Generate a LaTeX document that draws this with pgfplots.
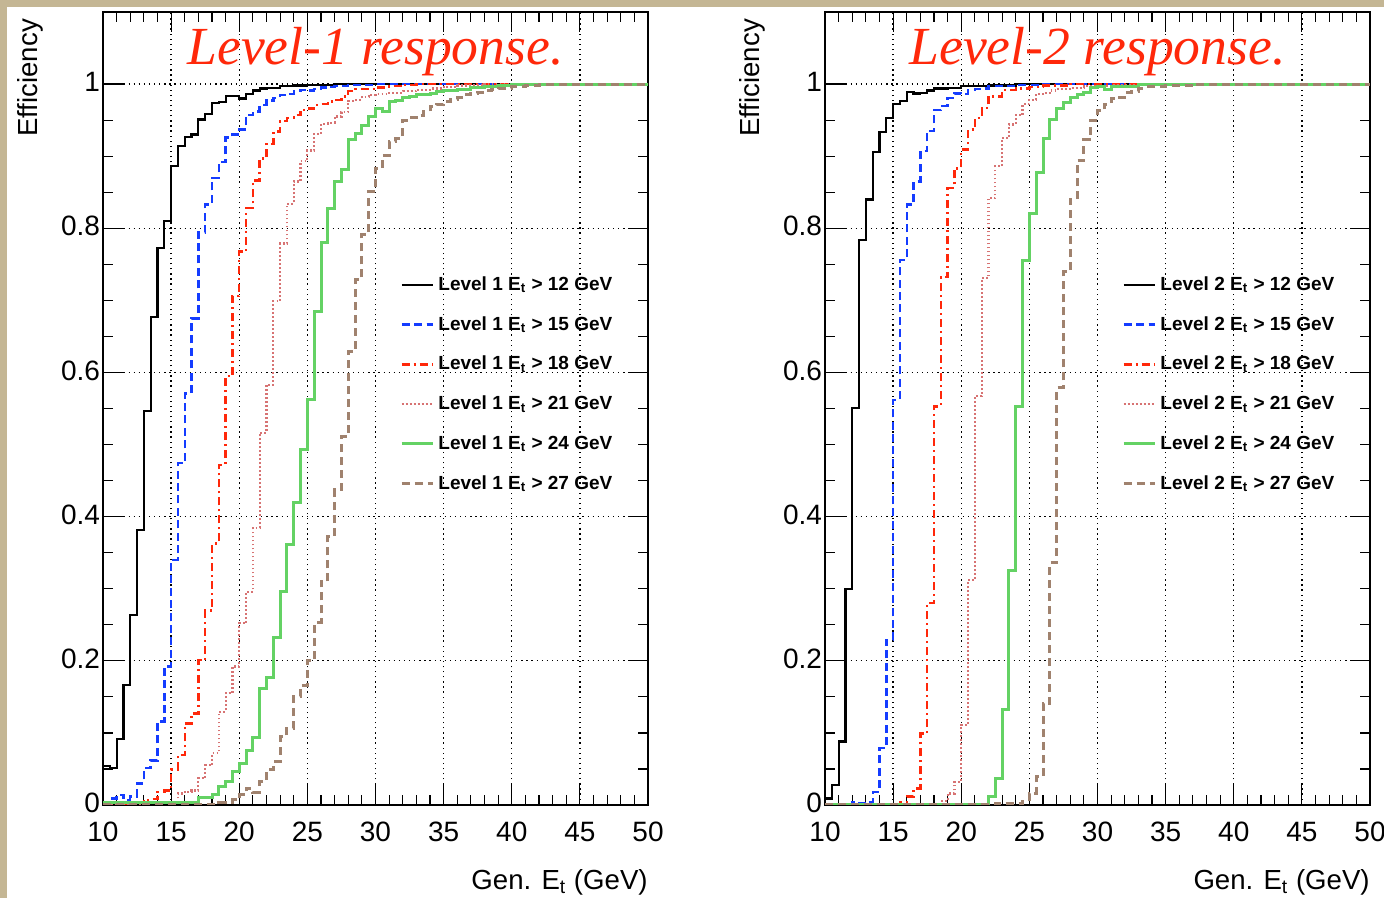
\documentclass[border=0pt]{standalone}
\usepackage{fontspec}
\setmainfont{Liberation Sans}
\newfontfamily\titlefont{Liberation Serif}
\usepackage{pgfplots}
\pgfplotsset{compat=1.18}

\definecolor{rootblue}{RGB}{20,60,255}
\definecolor{rootred}{RGB}{255,40,10}
\definecolor{rootpink}{RGB}{215,115,115}
\definecolor{rootgreen}{RGB}{100,210,100}
\definecolor{rootbrown}{RGB}{160,130,110}
\definecolor{paper}{RGB}{196,182,148}

\pgfplotsset{
  effplot/.style={
    scale only axis, width=272.5pt, height=396.5pt,
    xmin=10, xmax=50, ymin=0, ymax=1.1,
    xtick={10,15,20,25,30,35,40,45,50},
    ytick={0,0.2,0.4,0.6,0.8,1},
    minor x tick num=4, minor y tick num=3,
    tick align=inside, tick pos=both,
    major tick length=10pt, minor tick length=5pt,
    grid=major,
    major grid style={black, line width=0.65pt, dash pattern=on 0.65pt off 1.9pt},
    axis line style={line width=1pt},
    every tick/.style={black, line width=0.6pt},
    tick label style={font=\fontsize{14}{16}\selectfont},
    /pgf/number format/assume math mode=true,
    xticklabel style={yshift=-5pt},
    yticklabel style={xshift=2pt, yshift=1pt},
    legend style={draw=none, fill=none, at={(rel axis cs:0.545,0.672)},
      anchor=north west, font=\bfseries\fontsize{9.5}{10}\selectfont,
      row sep=7.5pt, inner sep=0pt},
    legend cell align=left,
    legend image code/.code={\draw[#1] (0pt,0pt) -- (13.5pt,0pt);
      \path (0pt,0pt) -- (15.5pt,0pt);},
    const plot,
  },
  l1/.style={black, line width=1.1pt},
  l2/.style={rootblue, line width=1.2pt, dash pattern=on 4pt off 2.2pt},
  l3/.style={rootred, line width=1.2pt, dash pattern=on 4pt off 2pt on 1pt off 2pt},
  l4/.style={rootpink, line width=1.1pt, dash pattern=on 0.9pt off 1.1pt},
  l5/.style={rootgreen, line width=1.5pt},
  l6/.style={rootbrown, line width=1.5pt, dash pattern=on 4pt off 2.5pt},
}

\begin{document}
\begin{tikzpicture}[x=1pt,y=1pt]
\useasboundingbox (0,0) rectangle (692,449);
\clip (0,0) rectangle (692,449);
\fill[paper] (0,0) rectangle (692,449);
\fill[white] (3.5,0) rectangle (692,445.5);

% ---------- Level 1 ----------
\begin{axis}[effplot, name=L, at={(51.5pt,46.5pt)}, anchor=south west]
\addplot[l1] coordinates {
 (10,0.054) (10.5,0.051) (11,0.091) (11.5,0.167) (12,0.264) (12.5,0.381)
 (13,0.547) (13.5,0.677) (14,0.773) (14.5,0.810) (15,0.886) (15.5,0.914)
 (16,0.927) (16.5,0.930) (17,0.951) (17.5,0.959) (18,0.974) (18.5,0.975)
 (19,0.983) (19.5,0.984) (20,0.980) (20.5,0.986) (21,0.991) (21.5,0.994)
 (22,0.995) (23,0.997) (24,0.998) (25,0.999) (27,1.0) (50,1.0)};
\addlegendentry{Level 1 E\textsubscript{t} > 12 GeV}
\addplot[l2] coordinates {
 (10,0.003) (10.5,0.009) (11,0.014) (11.5,0.007) (12,0.012) (12.5,0.030)
 (13,0.051) (13.5,0.062) (14,0.116) (14.5,0.192) (15,0.340) (15.5,0.474)
 (16,0.571) (16.5,0.675) (17,0.794) (17.5,0.833) (18,0.870) (18.5,0.892)
 (19,0.926) (19.5,0.930) (20,0.937) (20.5,0.957) (21,0.962) (21.5,0.971)
 (22,0.977) (22.5,0.981) (23,0.985) (23.5,0.986) (24,0.990) (24.5,0.992)
 (25,0.991) (25.5,0.993) (26,0.995) (26.5,0.996) (27,0.997) (28,0.999)
 (30,1.0) (50,1.0)};
\addlegendentry{Level 1 E\textsubscript{t} > 15 GeV}
\addplot[l3] coordinates {
 (10,0.002) (12,0.004) (13,0.007) (13.5,0.008) (14,0.018) (14.5,0.020)
 (15,0.049) (15.5,0.069) (16,0.113) (16.5,0.127) (17,0.201) (17.5,0.270)
 (18,0.363) (18.5,0.472) (19,0.595) (19.5,0.706) (20,0.768) (20.5,0.828)
 (21,0.866) (21.5,0.897) (22,0.917) (22.5,0.934) (23,0.949) (23.5,0.953)
 (24,0.957) (24.5,0.964) (25,0.966) (25.5,0.971) (26,0.972) (26.5,0.976)
 (27,0.978) (27.5,0.983) (28,0.990) (28.5,0.993) (30,0.995) (31,0.997)
 (32,0.999) (33,1.0) (50,1.0)};
\addlegendentry{Level 1 E\textsubscript{t} > 18 GeV}
\addplot[l4] coordinates {
 (10,0.002) (13,0.003) (15.5,0.016) (16,0.018) (16.5,0.020) (17,0.037)
 (17.5,0.055) (18,0.072) (18.5,0.129) (19,0.155) (19.5,0.192) (20,0.252)
 (20.5,0.296) (21,0.384) (21.5,0.516) (22,0.583) (22.5,0.699) (23,0.779)
 (23.5,0.834) (24,0.865) (24.5,0.893) (25,0.908) (25.5,0.931) (26,0.945)
 (26.5,0.946) (27,0.955) (27.5,0.961) (28,0.977) (28.5,0.978) (29,0.982)
 (29.5,0.985) (30,0.986) (31,0.988) (32,0.990) (33,0.992) (34,0.994)
 (35,0.996) (36,0.998) (38,1.0) (50,1.0)};
\addlegendentry{Level 1 E\textsubscript{t} > 21 GeV}
\addplot[l5] coordinates {
 (10,0.003) (17,0.011) (18,0.015) (18.5,0.025) (19,0.032) (19.5,0.047)
 (20,0.058) (20.5,0.076) (21,0.093) (21.5,0.161) (22,0.177) (22.5,0.233)
 (23,0.296) (23.5,0.362) (24,0.420) (24.5,0.493) (25,0.562) (25.5,0.685)
 (26,0.780) (26.5,0.827) (27,0.865) (27.5,0.881) (28,0.923) (28.5,0.932)
 (29,0.942) (29.5,0.955) (30,0.966) (30.5,0.962) (31,0.976) (31.5,0.977)
 (32,0.981) (32.5,0.983) (33,0.985) (33.5,0.986) (34,0.987) (34.5,0.990)
 (35,0.991) (36,0.993) (37,0.995) (38,0.997) (39,0.998) (40,0.999)
 (42,1.0) (50,1.0)};
\addlegendentry{Level 1 E\textsubscript{t} > 24 GeV}
\addplot[l6] coordinates {
 (10,0.001) (18.5,0.003) (19,0.004) (19.5,0.007) (20,0.014) (20.5,0.023)
 (21,0.018) (21.5,0.032) (22,0.049) (22.5,0.060) (23,0.095) (23.5,0.106)
 (24,0.150) (24.5,0.166) (25,0.201) (25.5,0.253) (26,0.310) (26.5,0.372)
 (27,0.438) (27.5,0.511) (28,0.629) (28.5,0.729) (29,0.791) (29.5,0.851)
 (30,0.883) (30.5,0.901) (31,0.920) (31.5,0.925) (32,0.949) (32.5,0.953)
 (33,0.957) (33.5,0.962) (34,0.969) (34.5,0.972) (35,0.976) (35.5,0.979)
 (36,0.982) (36.5,0.985) (37,0.987) (37.5,0.989) (38,0.991) (38.5,0.992)
 (39,0.994) (40,0.996) (41,0.998) (42,0.999) (43,1.0) (50,1.0)};
\addlegendentry{Level 1 E\textsubscript{t} > 27 GeV}
\end{axis}

% ---------- Level 2 ----------
\begin{axis}[effplot, name=R, at={(412.5pt,46.5pt)}, anchor=south west]
\addplot[l1] coordinates {
 (10,0.009) (10.5,0.028) (11,0.088) (11.5,0.300) (12,0.551) (12.5,0.784)
 (13,0.840) (13.5,0.906) (14,0.934) (14.5,0.953) (15,0.972) (15.5,0.976)
 (16,0.989) (16.5,0.987) (17,0.988) (17.5,0.991) (18,0.994) (19,0.995)
 (20,0.997) (22,0.998) (24,1.0) (50,1.0)};
\addlegendentry{Level 2 E\textsubscript{t} > 12 GeV}
\addplot[l2] coordinates {
 (10,0.0) (12,0.004) (12.5,0.002) (13,0.004) (13.5,0.018) (14,0.079)
 (14.5,0.229) (15,0.562) (15.5,0.756) (16,0.833) (16.5,0.865) (17,0.907)
 (17.5,0.935) (18,0.964) (18.5,0.970) (19,0.981) (19.5,0.987) (20,0.986)
 (20.5,0.992) (21,0.993) (21.5,0.994) (22,0.997) (24,0.999) (26,1.0) (50,1.0)};
\addlegendentry{Level 2 E\textsubscript{t} > 15 GeV}
\addplot[l3] coordinates {
 (10,0.0) (15.5,0.004) (16,0.012) (16.5,0.023) (17,0.099) (17.5,0.280)
 (18,0.553) (18.5,0.732) (19,0.856) (19.5,0.883) (20,0.909) (20.5,0.937)
 (21,0.953) (21.5,0.967) (22,0.983) (23,0.992) (24,0.994) (25,0.996)
 (26,0.998) (28,1.0) (50,1.0)};
\addlegendentry{Level 2 E\textsubscript{t} > 18 GeV}
\addplot[l4] coordinates {
 (10,0.0) (18.5,0.005) (19,0.016) (19.5,0.032) (20,0.111) (20.5,0.312)
 (21,0.567) (21.5,0.731) (22,0.842) (22.5,0.886) (23,0.925) (23.5,0.944)
 (24,0.957) (24.5,0.972) (25,0.978) (25.5,0.986) (26,0.988) (26.5,0.991)
 (27,0.993) (28,0.995) (29,0.997) (31,0.999) (33,1.0) (50,1.0)};
\addlegendentry{Level 2 E\textsubscript{t} > 21 GeV}
\addplot[l5] coordinates {
 (10,0.0) (20,0.001) (22,0.012) (22.5,0.037) (23,0.132) (23.5,0.325)
 (24,0.553) (24.5,0.755) (25,0.821) (25.5,0.877) (26,0.924) (26.5,0.951)
 (27,0.966) (27.5,0.974) (28,0.981) (28.5,0.985) (29,0.989) (29.5,0.995)
 (30,0.996) (30.5,0.992) (31,0.996) (31.5,0.997) (33,0.999) (35,1.0) (50,1.0)};
\addlegendentry{Level 2 E\textsubscript{t} > 24 GeV}
\addplot[l6] coordinates {
 (10,0.0) (22.5,0.002) (24.5,0.005) (25,0.016) (25.5,0.039) (26,0.141)
 (26.5,0.336) (27,0.579) (27.5,0.740) (28,0.840) (28.5,0.894) (29,0.923)
 (29.5,0.950) (30,0.963) (30.5,0.972) (31,0.980) (31.5,0.982) (32,0.989)
 (32.5,0.990) (33,0.994) (33.5,0.996) (35,0.998) (37,1.0) (50,1.0)};
\addlegendentry{Level 2 E\textsubscript{t} > 27 GeV}
\end{axis}

% titles and axis labels
\foreach \ax/\lev in {L/1, R/2} {
  \node[anchor=base, text=rootred, font=\titlefont\itshape\fontsize{26.8}{28}\selectfont]
    at ([yshift=-26.5pt]\ax.north) {Level-\lev{} response.};
  \node[rotate=90, anchor=east, font=\fontsize{13.8}{16}\selectfont]
    at ([xshift=-36.5pt]\ax.north west) {Efficiency};
  \node[anchor=base east, inner sep=0pt, font=\fontsize{13.8}{16}\selectfont]
    at ([yshift=-42pt]\ax.south east) {Gen. E\textsubscript{t} (GeV)};
}
\end{tikzpicture}
\end{document}
